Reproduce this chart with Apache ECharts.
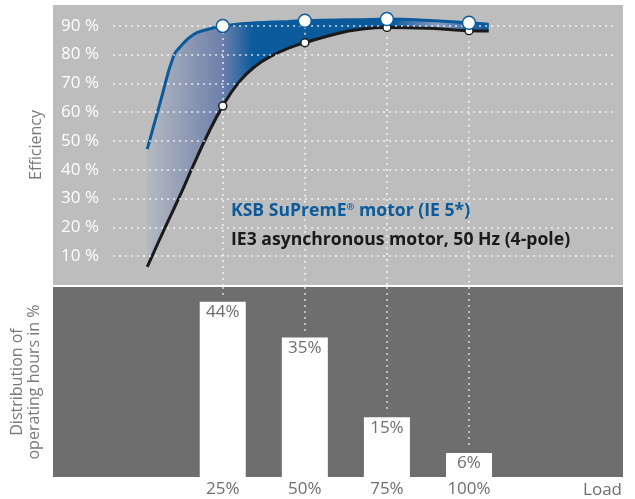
<!DOCTYPE html>
<html>
<head>
<meta charset="utf-8">
<script src="https://cdn.jsdelivr.net/npm/echarts@6/dist/echarts.min.js"></script>
<style>
html,body{margin:0;padding:0;background:#fff;}
#c{width:635px;height:499px;}
</style>
</head>
<body>
<div id="c"></div>
<script>
// ---- data ----
const loads   = [2, 6, 10, 12, 16, 20, 25, 30, 35, 40, 45, 50, 60, 66, 75, 88, 100, 106];
const ie5Eff  = [47.2, 63.6, 79.4, 82.6, 86.9, 88.6, 89.9, 90.6, 91.0, 91.3, 91.5, 91.7, 92.0, 92.1, 92.3, 91.8, 91.0, 90.5];
const ie3Eff  = [6.3, 16.4, 26.2, 31.1, 41.4, 51.3, 62.1, 70.5, 76.0, 79.6, 82.2, 84.1, 87.3, 88.6, 89.4, 89.1, 88.3, 88.2];
const markLoads  = [25, 50, 75, 100];
const hoursShare = [44, 35, 15, 6];
const effTicks   = [10, 20, 30, 40, 50, 60, 70, 80, 90];
const loadLabels = ['25%', '50%', '75%', '100%'];
const ie5Name = 'KSB SuPremE® motor (IE 5*)';
const ie3Name = 'IE3 asynchronous motor, 50 Hz (4-pole)';

const X_MIN = -26.7, X_MAX = 146.9;
const FONT = 'Open Sans';
const BLUE = '#0b5a9c';
const BLACK = '#1a1a1a';

const ie5Pts = loads.map((x, i) => [x, ie5Eff[i]]);
const ie3Pts = loads.map((x, i) => [x, ie3Eff[i]]);
const bandPts = loads.map((x, i) => [x, +(ie5Eff[i] - ie3Eff[i]).toFixed(2)]);
const ie5Marks = markLoads.map(x => [x, ie5Eff[loads.indexOf(x)]]);
const ie3Marks = markLoads.map(x => [x, ie3Eff[loads.indexOf(x)]]);
const bars = markLoads.map((x, i) => [x, hoursShare[i]]);

const dotTop = { color: 'rgba(255,255,255,0.6)', width: 2, type: [2, 4] };
const dotBot = { color: 'rgba(255,255,255,0.55)', width: 2, type: [2, 4] };
const SMOOTH = 0.5;

const chart = echarts.init(document.getElementById('c'), null, { renderer: 'canvas' });
chart.setOption({
  animation: false,
  backgroundColor: '#ffffff',
  textStyle: { fontFamily: FONT },
  title: [
    {
      text: '{a|KSB SuPremE}{s|®}{a| motor (IE 5*)}',
      left: 226, top: 197,
      textStyle: {
        rich: {
          a: { fontFamily: FONT, fontWeight: 'bold', fontSize: 17.6, color: BLUE },
          s: { fontFamily: FONT, fontWeight: 'bold', fontSize: 9.5, color: BLUE, verticalAlign: 'top', padding: [0, 0, 8, 0] }
        }
      }
    },
    {
      text: ie3Name,
      left: 226, top: 226,
      textStyle: { fontFamily: FONT, fontWeight: 'bold', fontSize: 17.6, color: BLACK }
    },
    {
      text: 'Load',
      right: 8, top: 477,
      textStyle: { fontFamily: FONT, fontWeight: 'normal', fontSize: 17, color: '#6e6e6e' }
    }
  ],
  grid: [
    { left: 53, right: 12, top: 5, height: 280, show: true, backgroundColor: '#bdbdbd', borderWidth: 0 },
    { left: 53, right: 12, top: 287, height: 190, show: true, backgroundColor: '#6e6e6e', borderWidth: 0 }
  ],
  xAxis: [
    // load axis of the efficiency panel (hidden; 'time' type keeps stacking on the efficiency dimension)
    { type: 'time', gridIndex: 0, min: X_MIN, max: X_MAX, show: false, splitLine: { show: false } },
    {
      type: 'value', gridIndex: 1, min: X_MIN, max: X_MAX,
      axisLine: { show: false }, axisTick: { show: false }, splitLine: { show: false },
      axisLabel: {
        customValues: markLoads, margin: 4,
        color: '#6e6e6e', fontSize: 17, fontFamily: FONT,
        formatter: v => loadLabels[markLoads.indexOf(v)] || ''
      }
    }
  ],
  yAxis: [
    {
      type: 'value', gridIndex: 0, min: 0, max: 97.2,
      axisLine: { show: false }, axisTick: { show: false }, splitLine: { show: false },
      axisLabel: {
        inside: true, align: 'right', margin: 46, customValues: effTicks,
        color: '#ffffff', fontSize: 17, fontFamily: FONT,
        formatter: v => v + ' %'
      },
      name: 'Efficiency', nameLocation: 'middle', nameRotate: 90, nameGap: 9,
      nameTextStyle: { color: '#7a7a7a', fontSize: 16, fontFamily: FONT }
    },
    {
      type: 'value', gridIndex: 1, min: 0, max: 47.7,
      axisLine: { show: false }, axisTick: { show: false }, splitLine: { show: false },
      axisLabel: { show: false },
      name: 'Distribution of\noperating hours in %', nameLocation: 'middle', nameRotate: 90, nameGap: 10,
      nameTextStyle: { color: '#7a7a7a', fontSize: 16, fontFamily: FONT, lineHeight: 17, align: 'center' }
    }
  ],
  series: [
    // horizontal dotted gridlines (below the band)
    {
      type: 'line', xAxisIndex: 0, yAxisIndex: 0, data: [], z: 1, silent: true,
      markLine: {
        silent: true, symbol: ['none', 'none'], label: { show: false }, lineStyle: dotTop,
        data: effTicks.map(v => [{ coord: [-8.4, v] }, { coord: [144.5, v] }])
      }
    },
    // IE3 curve (stack base)
    {
      name: ie3Name, type: 'line', xAxisIndex: 0, yAxisIndex: 0, stack: 'band',
      data: ie3Pts, smooth: SMOOTH, showSymbol: false, symbol: 'none', z: 4,
      lineStyle: { color: BLACK, width: 3 }
    },
    // band between curves
    {
      name: 'band', type: 'line', xAxisIndex: 0, yAxisIndex: 0, stack: 'band',
      data: bandPts, smooth: SMOOTH, showSymbol: false, symbol: 'none', z: 2,
      lineStyle: { width: 0, opacity: 0 },
      areaStyle: {
        opacity: 1,
        color: new echarts.graphic.LinearGradient(0, 0, 1, 0, [
          { offset: 0.00, color: '#b4b8c0' },
          { offset: 0.22, color: '#6d80aa' },
          { offset: 0.31, color: '#0b5a9c' },
          { offset: 0.72, color: '#0b5a9c' },
          { offset: 0.85, color: '#8e9fc0' },
          { offset: 0.95, color: '#2d66a2' },
          { offset: 1.00, color: '#0b5a9c' }
        ])
      }
    },
    // vertical dotted lines in the top panel (above band)
    {
      type: 'line', xAxisIndex: 0, yAxisIndex: 0, data: [], z: 3, silent: true,
      markLine: {
        silent: true, symbol: ['none', 'none'], label: { show: false }, lineStyle: dotTop,
        data: ie5Marks.map(p => [{ coord: [p[0], p[1]] }, { coord: [p[0], 0] }])
      }
    },
    // IE5 curve
    {
      name: ie5Name, type: 'line', xAxisIndex: 0, yAxisIndex: 0,
      data: ie5Pts, smooth: SMOOTH, showSymbol: false, symbol: 'none', z: 4,
      lineStyle: { color: BLUE, width: 3 }
    },
    // markers
    {
      type: 'scatter', xAxisIndex: 0, yAxisIndex: 0, data: ie3Marks, z: 5,
      symbol: 'circle', symbolSize: 8,
      itemStyle: { color: '#ffffff', borderColor: BLACK, borderWidth: 1.5, opacity: 1 }
    },
    {
      type: 'scatter', xAxisIndex: 0, yAxisIndex: 0, data: ie5Marks, z: 6,
      symbol: 'circle', symbolSize: 13,
      itemStyle: { color: '#ffffff', borderColor: BLUE, borderWidth: 1.5, opacity: 1 }
    },
    // operating-hours distribution
    {
      type: 'bar', xAxisIndex: 1, yAxisIndex: 1, data: bars, barWidth: 46, z: 2,
      itemStyle: { color: '#ffffff' },
      label: {
        show: true, position: 'insideTop', distance: 2,
        color: '#6e6e6e', fontSize: 17, fontFamily: FONT,
        formatter: p => p.value[1] + '%'
      },
      markLine: {
        silent: true, symbol: ['none', 'none'], label: { show: false }, lineStyle: dotBot,
        data: bars.map(p => [{ coord: [p[0], 47.7] }, { coord: [p[0], p[1] + 1] }])
      }
    }
  ]
});
</script>
</body>
</html>
